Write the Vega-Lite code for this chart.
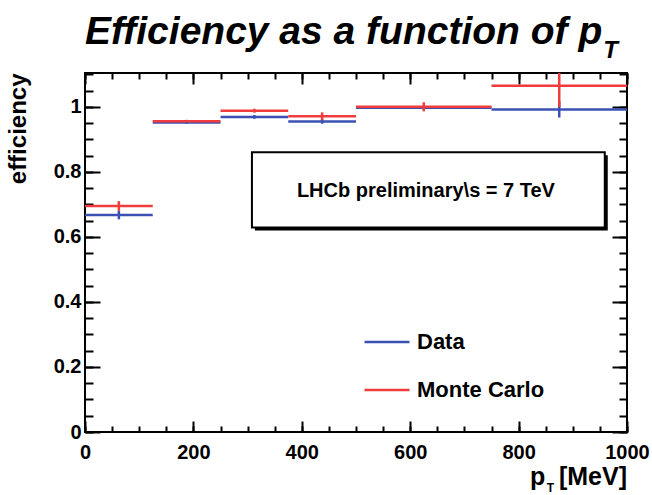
{
  "$schema": "https://vega.github.io/schema/vega-lite/v6.json",
  "width": 542,
  "height": 359,
  "autosize": {"type": "none"},
  "padding": {"left": 85, "top": 73, "right": 25, "bottom": 63},
  "background": "white",
  "config": {
    "view": {"stroke": "black", "strokeWidth": 2},
    "font": "Liberation Sans",
    "axis": {"domain": false, "grid": false, "tickColor": "black", "tickWidth": 2, "labelFont": "Liberation Sans", "labelFontWeight": "bold", "labelFontSize": 20, "labelColor": "black", "labelFlush": false, "labelOverlap": false}
  },
  "datasets": {
    "hist": [
      {"sample": "Data", "lo": 0, "hi": 125, "mid": 62.5, "eff": 0.667, "eLow": 0.654, "eHigh": 0.680},
      {"sample": "Data", "lo": 125, "hi": 250, "mid": 187.5, "eff": 0.952, "eLow": 0.948, "eHigh": 0.956},
      {"sample": "Data", "lo": 250, "hi": 375, "mid": 312.5, "eff": 0.969, "eLow": 0.963, "eHigh": 0.975},
      {"sample": "Data", "lo": 375, "hi": 500, "mid": 437.5, "eff": 0.955, "eLow": 0.948, "eHigh": 0.962},
      {"sample": "Data", "lo": 500, "hi": 750, "mid": 625, "eff": 0.997, "eLow": 0.992, "eHigh": 1.002},
      {"sample": "Data", "lo": 750, "hi": 1000, "mid": 875, "eff": 0.992, "eLow": 0.967, "eHigh": 1.017},
      {"sample": "Monte Carlo", "lo": 0, "hi": 125, "mid": 62.5, "eff": 0.695, "eLow": 0.680, "eHigh": 0.710},
      {"sample": "Monte Carlo", "lo": 125, "hi": 250, "mid": 187.5, "eff": 0.956, "eLow": 0.952, "eHigh": 0.960},
      {"sample": "Monte Carlo", "lo": 250, "hi": 375, "mid": 312.5, "eff": 0.988, "eLow": 0.982, "eHigh": 0.994},
      {"sample": "Monte Carlo", "lo": 375, "hi": 500, "mid": 437.5, "eff": 0.971, "eLow": 0.959, "eHigh": 0.983},
      {"sample": "Monte Carlo", "lo": 500, "hi": 750, "mid": 625, "eff": 1.000, "eLow": 0.986, "eHigh": 1.014},
      {"sample": "Monte Carlo", "lo": 750, "hi": 1000, "mid": 875, "eff": 1.065, "eLow": 1.000, "eHigh": 1.130}
    ]
  },
  "layer": [
    {
      "data": {"name": "hist"},
      "mark": {"type": "rule", "strokeWidth": 2.5, "clip": true},
      "encoding": {
        "x": {"field": "lo", "type": "quantitative", "scale": {"domain": [0, 1000], "nice": false},
          "axis": {"orient": "bottom", "values": [0, 200, 400, 600, 800, 1000], "format": "d", "tickSize": -11, "labelPadding": 21, "title": null}},
        "x2": {"field": "hi"},
        "y": {"field": "eff", "type": "quantitative", "scale": {"domain": [0, 1.104], "nice": false},
          "axis": {"orient": "left", "values": [0, 0.2, 0.4, 0.6, 0.8, 1], "format": "~g", "tickSize": -15, "labelPadding": 19,
            "title": "efficiency", "titleFont": "Liberation Sans", "titleFontSize": 24, "titleFontWeight": "bold", "titleColor": "black",
            "titleAngle": -90, "titleX": -55, "titleY": 0, "titleAlign": "right", "titleBaseline": "bottom"}},
        "color": {"field": "sample", "type": "nominal",
          "scale": {"domain": ["Data", "Monte Carlo"], "range": ["#3c50b4", "#f03c3c"]},
          "legend": {"orient": "none", "legendX": 278, "legendY": 245, "title": null, "symbolType": "stroke", "symbolSize": 2025, "symbolStrokeWidth": 2.5,
            "labelFont": "Liberation Sans", "labelFontSize": 22, "labelFontWeight": "bold", "labelColor": "black", "labelOffset": 6, "rowPadding": 13, "padding": 0, "labelLimit": 300}}
      }
    },
    {
      "data": {"name": "hist"},
      "mark": {"type": "rule", "strokeWidth": 2.5, "clip": true},
      "encoding": {
        "x": {"field": "mid", "type": "quantitative", "scale": {"domain": [0, 1000], "nice": false},
          "axis": {"orient": "bottom", "values": [0, 50, 100, 150, 200, 250, 300, 350, 400, 450, 500, 550, 600, 650, 700, 750, 800, 850, 900, 950, 1000], "tickSize": -6, "labels": false, "title": null}},
        "y": {"field": "eLow", "type": "quantitative", "scale": {"domain": [0, 1.104], "nice": false},
          "axis": {"orient": "left", "values": [0, 0.05, 0.1, 0.15, 0.2, 0.25, 0.3, 0.35, 0.4, 0.45, 0.5, 0.55, 0.6, 0.65, 0.7, 0.75, 0.8, 0.85, 0.9, 0.95, 1, 1.05, 1.1], "tickSize": -8, "labels": false, "title": null}},
        "y2": {"field": "eHigh"},
        "color": {"field": "sample", "type": "nominal",
          "scale": {"domain": ["Data", "Monte Carlo"], "range": ["#3c50b4", "#f03c3c"]},
          "legend": {"orient": "none", "legendX": 278, "legendY": 245, "title": null, "symbolType": "stroke", "symbolSize": 2025, "symbolStrokeWidth": 2.5,
            "labelFont": "Liberation Sans", "labelFontSize": 22, "labelFontWeight": "bold", "labelColor": "black", "labelOffset": 6, "rowPadding": 13, "padding": 0, "labelLimit": 300}}
      }
    },
    {
      "data": {"values": [{"kind": "shadow"}]},
      "mark": {"type": "rect", "fill": "black"},
      "encoding": {
        "x": {"datum": 313.5, "type": "quantitative", "scale": {"domain": [0, 1000], "nice": false},
          "axis": {"orient": "top", "values": [0, 200, 400, 600, 800, 1000], "tickSize": -11, "labels": false, "title": null}},
        "x2": {"datum": 964.5},
        "y": {"datum": 0.851, "type": "quantitative", "scale": {"domain": [0, 1.104], "nice": false},
          "axis": {"orient": "right", "values": [0, 0.2, 0.4, 0.6, 0.8, 1], "tickSize": -15, "labels": false, "title": null}},
        "y2": {"datum": 0.620}
      }
    },
    {
      "data": {"values": [{"kind": "box"}]},
      "mark": {"type": "rect", "fill": "white", "stroke": "black", "strokeWidth": 2},
      "encoding": {
        "x": {"datum": 308, "type": "quantitative", "scale": {"domain": [0, 1000], "nice": false},
          "axis": {"orient": "top", "values": [0, 50, 100, 150, 200, 250, 300, 350, 400, 450, 500, 550, 600, 650, 700, 750, 800, 850, 900, 950, 1000], "tickSize": -6, "labels": false, "title": null}},
        "x2": {"datum": 959},
        "y": {"datum": 0.860, "type": "quantitative", "scale": {"domain": [0, 1.104], "nice": false},
          "axis": {"orient": "right", "values": [0, 0.05, 0.1, 0.15, 0.2, 0.25, 0.3, 0.35, 0.4, 0.45, 0.5, 0.55, 0.6, 0.65, 0.7, 0.75, 0.8, 0.85, 0.9, 0.95, 1, 1.05, 1.1], "tickSize": -8, "labels": false, "title": null}},
        "y2": {"datum": 0.629}
      }
    },
    {
      "data": {"values": [{"label": "LHCb preliminary\\s = 7 TeV"}]},
      "mark": {"type": "text", "font": "Liberation Sans", "fontSize": 20, "fontWeight": "bold", "color": "black", "align": "center", "baseline": "alphabetic"},
      "encoding": {
        "x": {"datum": 629, "type": "quantitative", "axis": null},
        "y": {"datum": 0.7215, "type": "quantitative", "axis": null},
        "text": {"field": "label"}
      }
    },
    {
      "data": {"values": [{"label": "Efficiency as a function of p"}]},
      "mark": {"type": "text", "font": "Liberation Sans", "fontSize": 39, "fontWeight": "bold", "fontStyle": "italic", "color": "black", "align": "left", "baseline": "alphabetic"},
      "encoding": {
        "x": {"datum": 0, "type": "quantitative", "axis": null},
        "y": {"datum": 1.192, "type": "quantitative", "axis": null},
        "text": {"field": "label"}
      }
    },
    {
      "data": {"values": [{"label": "T"}]},
      "mark": {"type": "text", "font": "Liberation Sans", "fontSize": 24, "fontWeight": "bold", "fontStyle": "italic", "color": "black", "align": "left", "baseline": "alphabetic"},
      "encoding": {
        "x": {"datum": 956, "type": "quantitative", "axis": null},
        "y": {"datum": 1.149, "type": "quantitative", "axis": null},
        "text": {"field": "label"}
      }
    },
    {
      "data": {"values": [{"label": "p"}]},
      "mark": {"type": "text", "font": "Liberation Sans", "fontSize": 25, "fontWeight": "bold", "color": "black", "align": "left", "baseline": "alphabetic"},
      "encoding": {
        "x": {"datum": 821, "type": "quantitative", "axis": null},
        "y": {"datum": -0.164, "type": "quantitative", "axis": null},
        "text": {"field": "label"}
      }
    },
    {
      "data": {"values": [{"label": "T"}]},
      "mark": {"type": "text", "font": "Liberation Sans", "fontSize": 12, "fontWeight": "bold", "color": "black", "align": "left", "baseline": "alphabetic"},
      "encoding": {
        "x": {"datum": 852, "type": "quantitative", "axis": null},
        "y": {"datum": -0.186, "type": "quantitative", "axis": null},
        "text": {"field": "label"}
      }
    },
    {
      "data": {"values": [{"label": "[MeV]"}]},
      "mark": {"type": "text", "font": "Liberation Sans", "fontSize": 25, "fontWeight": "bold", "color": "black", "align": "right", "baseline": "alphabetic"},
      "encoding": {
        "x": {"datum": 1000, "type": "quantitative", "axis": null},
        "y": {"datum": -0.164, "type": "quantitative", "axis": null},
        "text": {"field": "label"}
      }
    }
  ],
  "resolve": {"axis": {"x": "independent", "y": "independent"}}
}
